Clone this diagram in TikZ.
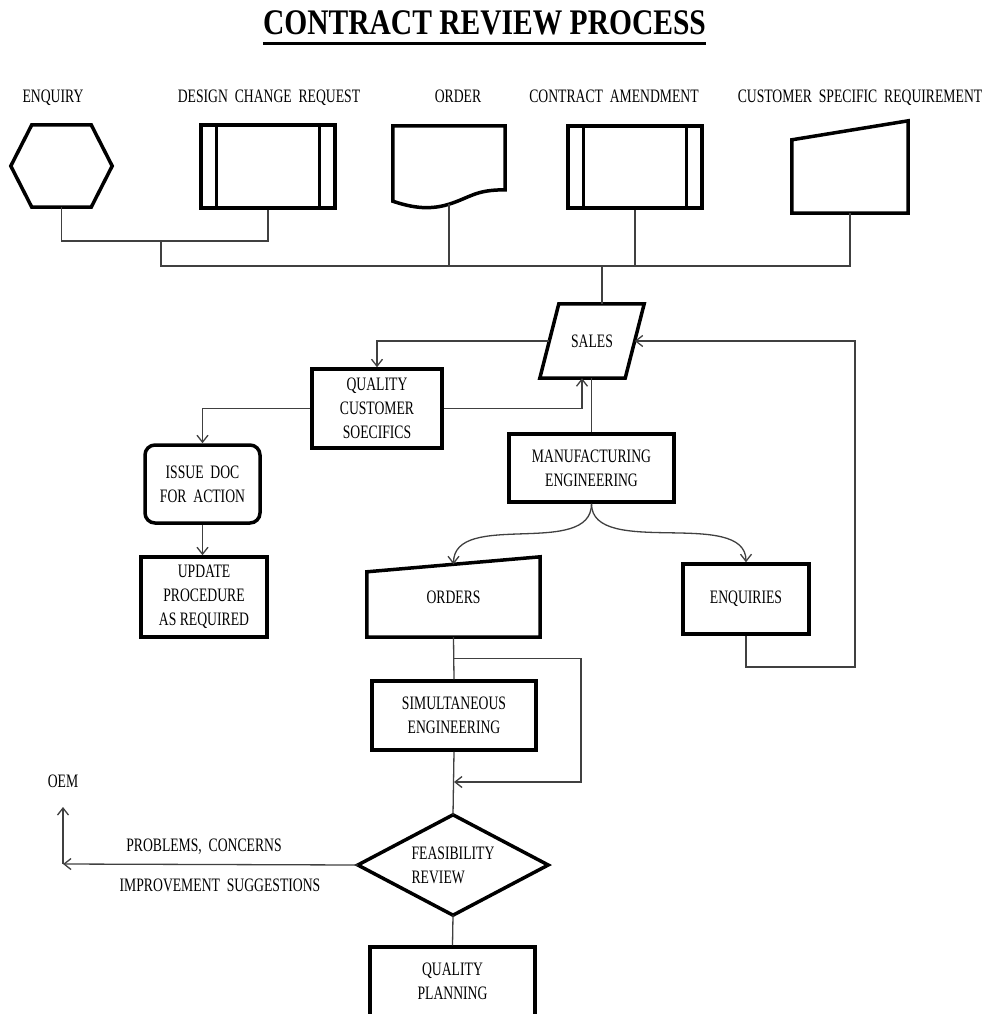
\documentclass[tikz,border=0pt]{standalone}
\usepackage{fontspec}
\setmainfont{Liberation Serif}[FakeStretch=0.72]
\newfontfamily\titlefont{Liberation Serif}[FakeStretch=0.82]
\usetikzlibrary{arrows.meta,calc}

\begin{document}
\begin{tikzpicture}[x=1pt,y=-1pt,
  txt/.style={font=\fontsize{19}{24}\selectfont,align=center,inner sep=0pt},
  box/.style={txt,draw,line width=3.5pt},
  shp/.style={line width=3.5pt},
  con/.style={line width=1.3pt,draw=black!75},
  arr/.style={con,-{Straight Barb[length=7pt,width=11pt,line width=1.3pt]}}]
  \useasboundingbox (0,0) rectangle (987,1014);
  \node[inner sep=0pt,anchor=base,font=\titlefont\bfseries\fontsize{36}{40}\selectfont] (title) at (484.5,35) {CONTRACT REVIEW PROCESS};
  \draw[line width=3.5pt] ([yshift=-8.5pt]title.base west) -- ([yshift=-8.5pt]title.base east);

  \node[txt,anchor=base] (lenq) at (53,103) {ENQUIRY};
  \node[txt,anchor=base] (ldcr) at (269,103) {DESIGN\ \ CHANGE\ \ REQUEST};
  \node[txt,anchor=base] (lord) at (458,103) {ORDER};
  \node[txt,anchor=base] (lcam) at (614,103) {CONTRACT\ \ AMENDMENT};
  \node[txt,anchor=base] (lcsr) at (860,103) {CUSTOMER\ \ SPECIFIC\ \ REQUIREMENT};

  \node[minimum width=101,minimum height=82] (enq) at (61.5,166) {};
  \draw[shp] (enq.west) -- ([xshift=21pt]enq.north west) -- ([xshift=-21pt]enq.north east) -- (enq.east) -- ([xshift=-21pt]enq.south east) -- ([xshift=21pt]enq.south west) -- cycle;
  \node[box,minimum width=134,minimum height=83] (dcr) at (268,166.5) {};
  \draw[line width=3pt] ([xshift=17pt]dcr.north west) -- ([xshift=17pt]dcr.south west) ([xshift=-17pt]dcr.north east) -- ([xshift=-17pt]dcr.south east);
  \node[minimum width=112,minimum height=81] (ord) at (449,166.5) {};
  \draw[shp] (ord.north west) -- (ord.north east) -- ++(0,64) .. controls +(-30,0) and +(22,-7) .. ([yshift=3pt]ord.south) .. controls +(-22,7) and +(15,5) .. ([yshift=6pt]ord.south west) -- cycle;
  \node[box,minimum width=134,minimum height=82] (cam) at (635,167) {};
  \draw[line width=3pt] ([xshift=17pt]cam.north west) -- ([xshift=17pt]cam.south west) ([xshift=-17pt]cam.north east) -- ([xshift=-17pt]cam.south east);
  \node[minimum width=116,minimum height=92] (csr) at (850,167) {};
  \draw[shp] ([yshift=-19pt]csr.north west) -- (csr.north east) -- (csr.south east) -- (csr.south west) -- cycle;

  \coordinate (j1) at (161,241);
  \coordinate (j2) at (602,266);
  \draw[con] (enq.south) |- (j1) -| (dcr.south);
  \draw[con] (j1) -- (j1 |- j2) -- (j2 -| csr.south) -- (csr.south);
  \draw[con] ([yshift=3pt]ord.south) -- (ord.south |- j2);
  \draw[con] (cam.south) -- (cam.south |- j2);

  \node[txt,minimum width=85,minimum height=74] (sales) at (592,341) {SALES};
  \draw[shp] ([xshift=9.5pt]sales.north west) -- ([xshift=9.5pt]sales.north east) -- ([xshift=-9.5pt]sales.south east) -- ([xshift=-9.5pt]sales.south west) -- cycle;
  \draw[con] (j2) -- (j2 |- sales.north);

  \node[box,minimum width=130,minimum height=79] (qcs) at (377,408.5) {QUALITY\\CUSTOMER\\SOECIFICS};
  \node[box,rounded corners=10pt,minimum width=115,minimum height=78] (issue) at (202.5,484) {ISSUE\ \ DOC\\FOR\ \ ACTION};
  \node[box,minimum width=126,minimum height=80] (upd) at (204,597) {UPDATE\\PROCEDURE\\AS REQUIRED};
  \node[box,minimum width=165,minimum height=68] (mfg) at (591.5,468) {MANUFACTURING\\ENGINEERING};
  \node[txt,minimum width=173,minimum height=80] (ords) at (453.5,597) {ORDERS};
  \draw[shp] ([yshift=-15pt]ords.north west) -- (ords.north east) -- (ords.south east) -- (ords.south west) -- cycle;
  \node[box,minimum width=126,minimum height=70] (enqs) at (746,599) {ENQUIRIES};
  \node[box,minimum width=164,minimum height=69] (sim) at (454,715.5) {SIMULTANEOUS\\ENGINEERING};
  \node[txt,align=left,minimum width=190,minimum height=100] (feas) at (453,865) {FEASIBILITY\\REVIEW};
  \draw[shp] (feas.north) -- (feas.east) -- (feas.south) -- (feas.west) -- cycle;
  \node[box,minimum width=165,minimum height=69] (qp) at (452.5,981.5) {QUALITY\\PLANNING};

  \draw[arr] (sales.west) -| (qcs.north);
  \draw[arr] (qcs.east) -| ([xshift=-10pt]sales.south);
  \draw[con] (mfg.north) -- (mfg.north |- sales.south);
  \draw[arr] (qcs.west) -| (issue.north);
  \draw[arr] (issue.south) -- (issue.south |- upd.north);
  \draw[arr] (mfg.south) .. controls +(0,55) and +(0,-55) .. ([yshift=-7.5pt]ords.north);
  \draw[arr] (mfg.south) .. controls +(0,55) and +(0,-55) .. (enqs.north);
  \coordinate (c1) at (855,667);
  \draw[arr] (enqs.south) |- (c1) |- (sales.east);
  \draw[con] (ords.south) -- (sim.north);
  \coordinate (l1) at ($(ords.south)!0.5!(sim.north)$);
  \coordinate (l2) at (581,782);
  \draw[arr] (l1) -| (l2) -- (l2 -| sim.south);
  \draw[con] (sim.south) -- (feas.north);
  \draw[con] (feas.south) -- (qp.north);

  \node[txt] (oem) at (63,781) {OEM};
  \coordinate (o1) at (63,864);
  \coordinate (o2) at (63,807);
  \draw[arr] (feas.west) -- (o1);
  \draw[arr] (o1) -- (o2);
  \node[txt] (lprob) at (204,847) {PROBLEMS,\ \ CONCERNS};
  \node[txt] (limp) at (220,885) {IMPROVEMENT\ \ SUGGESTIONS};
\end{tikzpicture}
\end{document}
